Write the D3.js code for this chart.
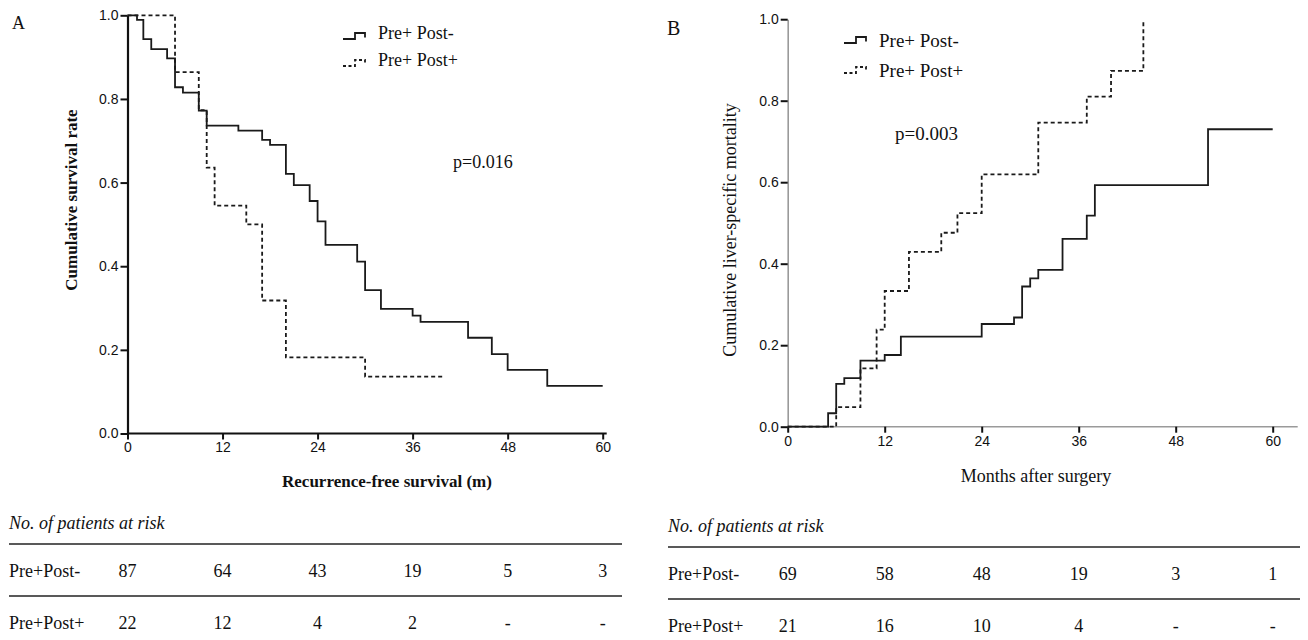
<!DOCTYPE html>
<html>
<head>
<meta charset="utf-8">
<script src="https://cdn.jsdelivr.net/npm/d3@7"></script>
<style>
  body { margin: 0; background: #fff; }
  .tick text { font-family: "Liberation Sans", Arial, sans-serif; font-size: 14px; fill: #111; }
  .serif { font-family: "Liberation Serif", "Times New Roman", serif; fill: #111; }
</style>
</head>
<body>
<svg id="chart" width="1308" height="640"></svg>
<script>
// ticks shared by both panels
var monthTicks = [0, 12, 24, 36, 48, 60];
var rateTicks = [0, 0.2, 0.4, 0.6, 0.8, 1.0];
var seriesNames = ["Pre+ Post-", "Pre+ Post+"];
var riskLabels = ["Pre+Post-", "Pre+Post+"];

// panel A: recurrence-free survival, [month, rate]
var rfsPostNeg = [[0, 1], [1.2, 0.989], [2, 0.943], [3, 0.919], [5, 0.897], [6, 0.828], [7, 0.815],
    [9, 0.772], [10, 0.736], [14, 0.724], [17, 0.702], [18, 0.69], [20, 0.621], [21, 0.594],
    [23, 0.556], [24, 0.507], [25, 0.451], [29, 0.411], [30, 0.343], [32, 0.298], [36, 0.282],
    [37, 0.267], [43, 0.229], [46, 0.19], [48, 0.152], [53, 0.114], [60, 0.114]];
var rfsPostPos = [[0, 1], [6, 0.864], [9, 0.773], [10, 0.636], [11, 0.545], [15, 0.5],
    [17, 0.318], [20, 0.182], [30, 0.136], [40, 0.136]];
var rfsAtRisk = [["87", "64", "43", "19", "5", "3"], ["22", "12", "4", "2", "-", "-"]];

// panel B: cumulative liver-specific mortality, [month, rate]
var mortPostNeg = [[0, 0], [5, 0.033], [6, 0.105], [7, 0.119], [9, 0.162], [12, 0.176],
    [14, 0.221], [24, 0.252], [28, 0.268], [29, 0.344], [30, 0.364], [31, 0.385], [34, 0.461],
    [37, 0.518], [38, 0.593], [52, 0.73], [60, 0.73]];
var mortPostPos = [[0, 0], [6, 0.048], [9, 0.143], [11, 0.238], [12, 0.333], [15, 0.429],
    [19, 0.476], [21, 0.524], [24, 0.619], [31, 0.746], [37, 0.81], [40, 0.873], [44, 1.0]];
var mortAtRisk = [["69", "58", "48", "19", "3", "1"], ["21", "16", "10", "4", "-", "-"]];

var svg = d3.select("#chart");

function drawPanel(p) {
    var x = d3.scaleLinear().domain([0, 60]).range([p.left, p.right]);
    var y = d3.scaleLinear().domain([0, 1]).range([p.bottom, p.top]);

    // axes
    var xAxis = svg.append("g")
        .attr("transform", "translate(0," + p.bottom + ")")
        .call(d3.axisBottom(x).tickValues(monthTicks).tickSize(6).tickSizeOuter(0).tickPadding(3));
    var yAxis = svg.append("g")
        .attr("transform", "translate(" + p.left + ",0)")
        .call(d3.axisLeft(y).tickValues(rateTicks).tickFormat(d3.format(".1f")).tickSize(7).tickSizeOuter(0).tickPadding(2));
    [xAxis, yAxis].forEach(function(a) {
        a.select(".domain").attr("stroke", p.axisColor).attr("stroke-width", p.axisWidth);
        a.selectAll(".tick line").attr("stroke", "#111").attr("stroke-width", 2);
    });
    xAxis.select(".domain").attr("d", "M" + p.left + ",0H" + (p.right + p.axisExtra));

    // curves
    var line = d3.line()
        .x(function(d) { return x(d[0]); })
        .y(function(d) { return y(d[1]); })
        .curve(d3.curveStepAfter);
    svg.append("path").datum(p.solid)
        .attr("d", line).attr("fill", "none")
        .attr("stroke", "#1a1a1a").attr("stroke-width", 1.8);
    svg.append("path").datum(p.dashed)
        .attr("d", line).attr("fill", "none")
        .attr("stroke", "#1a1a1a").attr("stroke-width", 1.8)
        .attr("stroke-dasharray", "4,3");

    // panel letter
    svg.append("text").attr("class", "serif")
        .attr("x", p.letterX).attr("y", p.letterY)
        .style("font-size", p.letterSize + "px")
        .text(p.letter);

    // axis titles
    svg.append("text").attr("class", "serif")
        .attr("x", p.xTitleX).attr("y", p.xTitleY)
        .attr("text-anchor", "middle")
        .style("font-size", p.titleSize + "px")
        .style("font-weight", p.titleWeight)
        .text(p.xTitle);
    svg.append("text").attr("class", "serif")
        .attr("transform", "translate(" + p.yTitleX + "," + p.yTitleY + ") rotate(-90)")
        .attr("text-anchor", "middle")
        .style("font-size", p.titleSize + "px")
        .style("font-weight", p.titleWeight)
        .text(p.yTitle);

    // legend
    [p.solid, p.dashed].forEach(function(s, i) {
        var ly = p.legendY + i * p.legendGap;
        var lx = p.legendX;
        svg.append("path")
            .attr("d", "M" + lx + "," + ly + "H" + (lx + 12) + "V" + (ly - 6) + "H" + (lx + 22) + "V" + (ly - 1.5))
            .attr("fill", "none").attr("stroke", "#1a1a1a").attr("stroke-width", 1.8)
            .attr("stroke-dasharray", i === 0 ? null : "3,2.5");
        svg.append("text").attr("class", "serif")
            .attr("x", lx + 35).attr("y", ly + p.legendTextDy)
            .style("font-size", p.legendSize + "px")
            .text(seriesNames[i]);
    });

    svg.append("text").attr("class", "serif")
        .attr("x", p.pX).attr("y", p.pY)
        .style("font-size", p.legendSize + "px")
        .text(p.pText);

    // at-risk table
    svg.append("text").attr("class", "serif")
        .attr("x", p.tableLeft).attr("y", p.tableTop)
        .style("font-size", "18px").style("font-style", "italic")
        .text("No. of patients at risk");
    p.risk.forEach(function(row, i) {
        var ry = p.tableTop + 22 + i * 52;
        svg.append("line")
            .attr("x1", p.tableLeft).attr("x2", p.tableRight)
            .attr("y1", ry - 7).attr("y2", ry - 7)
            .attr("stroke", "#222").attr("stroke-width", 1.5);
        svg.append("text").attr("class", "serif")
            .attr("x", p.tableLeft).attr("y", ry + 26)
            .style("font-size", "18px")
            .text(riskLabels[i]);
        svg.selectAll(null).data(row).enter().append("text")
            .attr("class", "serif")
            .attr("x", function(d, j) { return x(monthTicks[j]); })
            .attr("y", ry + 26)
            .attr("text-anchor", "middle")
            .style("font-size", "18px")
            .text(function(d) { return d; });
    });
}

drawPanel({
    left: 127.5, right: 602.7, top: 15.3, bottom: 433.5, axisExtra: 4,
    axisColor: "#111", axisWidth: 2.2,
    solid: rfsPostNeg, dashed: rfsPostPos,
    letter: "A", letterX: 12, letterY: 29, letterSize: 18,
    xTitle: "Recurrence-free survival (m)", xTitleX: 387, xTitleY: 487,
    yTitle: "Cumulative survival rate", yTitleX: 77, yTitleY: 200,
    titleSize: 17, titleWeight: "bold",
    legendX: 343, legendY: 39, legendGap: 27, legendTextDy: 0, legendSize: 18,
    pText: "p=0.016", pX: 453, pY: 168,
    risk: rfsAtRisk, tableLeft: 9, tableRight: 622, tableTop: 529
});

drawPanel({
    left: 787.7, right: 1272.7, top: 19.2, bottom: 426.7, axisExtra: 25,
    axisColor: "#9a9a9a", axisWidth: 1.6,
    solid: mortPostNeg, dashed: mortPostPos,
    letter: "B", letterX: 667, letterY: 35, letterSize: 20,
    xTitle: "Months after surgery", xTitleX: 1036, xTitleY: 482,
    yTitle: "Cumulative liver-specific mortality", yTitleX: 736, yTitleY: 230,
    titleSize: 18, titleWeight: "normal",
    legendX: 844, legendY: 43, legendGap: 30, legendTextDy: 4, legendSize: 19,
    pText: "p=0.003", pX: 895, pY: 140,
    risk: mortAtRisk, tableLeft: 668, tableRight: 1300, tableTop: 532
});
</script>
</body>
</html>
